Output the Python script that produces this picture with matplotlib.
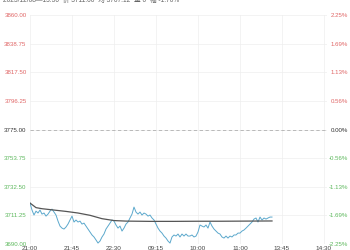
import numpy as np
import matplotlib; matplotlib.use("Agg")
import matplotlib.pyplot as plt

plt.rcParams['font.family'] = ['Liberation Sans', 'Noto Sans CJK SC', 'DejaVu Sans']

# ---- data ----
base_price = 3775.00
price_ticks = [3690.00, 3711.25, 3732.50, 3753.75, 3775.00, 3796.25, 3817.50, 3838.75, 3860.00]
price_labels = ["3690.00", "3711.25", "3732.50", "3753.75", "3775.00",
                "3796.25", "3817.50", "3838.75", "3860.00"]
pct_labels = ["-2.25%", "-1.69%", "-1.13%", "-0.56%", "0.00%",
              "0.56%", "1.13%", "1.69%", "2.25%"]
time_labels = ["21:00", "21:45", "22:30", "09:15", "10:00", "11:00", "13:45", "14:30"]
time_ticks = [0, 21, 42, 63, 84, 105, 126, 147]

# last price, one sample per ~2 minutes
price = [3720.4, 3715.2, 3711.5, 3714.4, 3713.0, 3715.2, 3712.2, 3713.0, 3710.7, 3712.2,
         3714.4, 3715.9, 3713.7, 3711.5, 3707.0, 3703.3, 3701.8, 3701.1, 3702.6, 3704.8,
         3707.8, 3710.7, 3706.3, 3707.8, 3706.3, 3707.0, 3704.8, 3705.5, 3703.3, 3701.1,
         3698.9, 3696.7, 3695.2, 3693.0, 3690.7, 3692.2, 3695.2, 3697.4, 3701.1, 3703.3,
         3705.5, 3707.8, 3707.0, 3704.1, 3701.8, 3703.3, 3699.6, 3701.8, 3704.8, 3706.3,
         3709.3, 3712.2, 3717.4, 3713.7, 3712.2, 3713.7, 3711.5, 3713.0, 3712.2, 3710.7,
         3711.5, 3709.3, 3707.8, 3704.8, 3701.8, 3699.6, 3698.1, 3695.9, 3694.4, 3692.2,
         3690.7, 3695.2, 3696.7, 3695.9, 3697.4, 3695.2, 3697.4, 3695.9, 3697.4, 3695.9,
         3695.9, 3696.7, 3695.2, 3695.9, 3698.9, 3704.1, 3703.3, 3702.6, 3704.1, 3701.8,
         3706.3, 3703.3, 3701.1, 3699.6, 3698.1, 3697.4, 3695.2, 3694.4, 3695.9, 3694.4,
         3695.9, 3695.2, 3696.7, 3696.7, 3698.1, 3698.1, 3699.6, 3700.4, 3701.8, 3703.3,
         3704.8, 3706.3, 3708.5, 3709.3, 3706.3, 3710.0, 3707.8, 3709.3, 3708.5, 3709.3,
         3710.0, 3710.0]

# average price line (sample index, value)
avg_idx = [0, 3, 6, 12, 18, 24, 30, 36, 42, 48, 54, 60, 72, 84, 96, 108, 121]
avg_val = [3720.4, 3717.0, 3716.2, 3715.2, 3714.2, 3713.0, 3711.3, 3708.8, 3707.4,
           3707.0, 3706.9, 3706.8, 3706.8, 3706.9, 3706.9, 3707.0, 3707.1]

header = "2025/12/08—13:50  价 3711.00  均 3707.12  量 0  幅 -1.70%"

RED = "#e06666"
GREEN = "#5cb85c"
MID = "#333333"

# ---- plot ----
fig = plt.figure(figsize=(3.5, 2.5), dpi=100)
ax = fig.add_axes([30/350, 1-244/250, 297/350, 229/250])

x = np.arange(len(price))
ax.plot(x, price, color="#5ba8cc", lw=0.7, zorder=3)
ax.plot(avg_idx, avg_val, color="#555555", lw=0.9, zorder=4)
ax.axhline(base_price, color="#b0b0b0", lw=0.6, ls=(0, (4, 3)), zorder=2)

ax.set_xlim(0, 148.5)
ax.set_ylim(price_ticks[0], price_ticks[-1])
ax.set_yticks(price_ticks)
ax.set_yticklabels(price_labels)
ax.set_xticks(time_ticks)
ax.set_xticklabels(time_labels)
ax.tick_params(axis="y", length=0, pad=2.5, labelsize=4.4)
ax.tick_params(axis="x", length=0, pad=1.5, labelsize=4.6, labelcolor="#444444")
for lab, v in zip(ax.get_yticklabels(), price_ticks):
    lab.set_color(RED if v > base_price else (GREEN if v < base_price else MID))
    lab.set_horizontalalignment("right")

ax.grid(True, color="#eeeeee", lw=0.5)
ax.set_axisbelow(True)
for s in ax.spines.values():
    s.set_visible(False)

ax2 = ax.twinx()
ax2.set_ylim(ax.get_ylim())
ax2.set_yticks(price_ticks)
ax2.set_yticklabels(pct_labels)
ax2.tick_params(axis="y", length=0, pad=15, labelsize=4.4)
for lab, v in zip(ax2.get_yticklabels(), price_ticks):
    lab.set_color(RED if v > base_price else (GREEN if v < base_price else MID))
    lab.set_horizontalalignment("right")
for s in ax2.spines.values():
    s.set_visible(False)

fig.text(3/350, 1.0, header, fontsize=4.8, color="#666666", va="center", ha="left",
         family=['Liberation Sans', 'Noto Sans CJK SC', 'DejaVu Sans'])

fig.savefig("out.png", dpi=100, facecolor="white")
